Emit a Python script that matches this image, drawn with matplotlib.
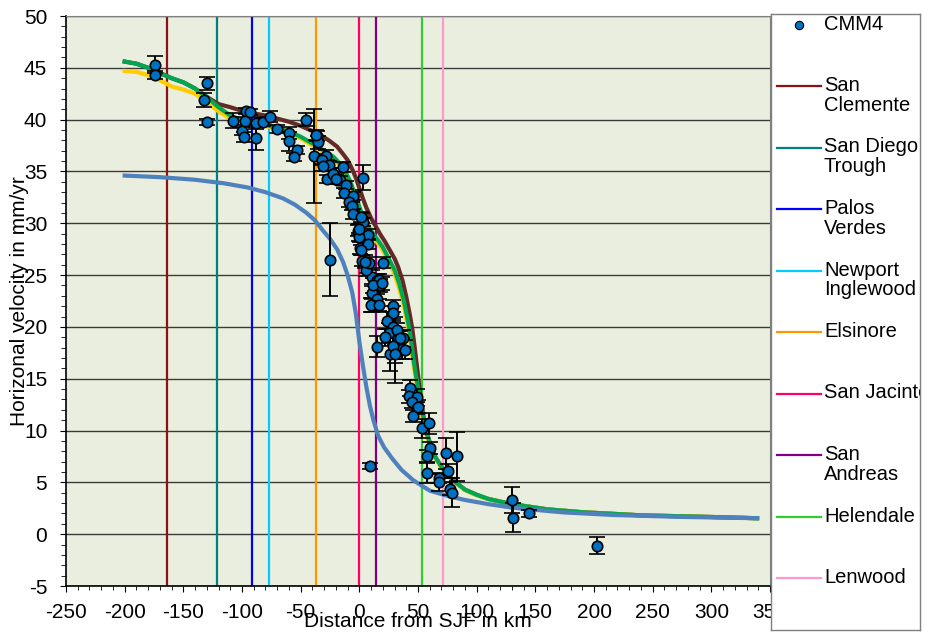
import numpy as np
import matplotlib

matplotlib.use("Agg")
import matplotlib.pyplot as plt
from matplotlib.ticker import MultipleLocator

plt.rcParams["font.family"] = ["Liberation Sans", "DejaVu Sans"]
plt.rcParams["axes.unicode_minus"] = False

# CMM4 velocities: distance from SJF (km), velocity (mm/yr), 1-sigma error
cmm4_x = [
    -174.1, -174.1, -129.6, -132.4, -129.6, -107.9, -99.7, -98.3, -96.6, -97.2,
    -93.5, -88.1, -88.1, -81.8, -76.1, -70.2, -60.2, -60.2, -53.4, -55.9,
    -45.7, -36.4, -35.5, -38.6, -32.1, -27.8, -25.0, 2.8, -28.7, -31.5,
    -25.6, -30.7, -27.8, -22.2, -19.3, -14.2, -16.5, -11.6, -13.1, -5.1,
    -8.5, -6.5, -5.1, 2.0, 3.4, -0.9, 7.7, -0.3, 0.6, 7.7,
    2.0, 6.3, 10.6, 14.8, 10.6, 14.8, 10.6, 19.9, 14.8, 17.6,
    29.0, 28.4, 23.3, 29.0, 25.6, 33.2, 37.5, 30.4, 36.1, 38.9,
    26.1, 14.8, 43.2, 42.6, 48.9, 44.6, 49.4, 45.4, 53.1, 59.1,
    60.2, 57.4, 57.4, 68.2, 68.2, 73.6, 75.9, 77.3, 78.7, 83.0,
    130.4, 131.3, 144.6, 202.3, 9.1, 1.1, 5.7, 8.5, 17.0, 11.9,
    19.0, 9.7, 17.0, 21.9, 31.8, 34.7, 29.0, 30.4, 50.3, -22.7,
    -19.9, 1.4, 0.0, 4.8, -36.9,
]
cmm4_y = [
    45.3, 44.3, 43.5, 41.9, 39.8, 39.9, 38.9, 38.3, 40.8, 39.9,
    40.7, 39.7, 38.2, 39.8, 40.3, 39.1, 38.7, 37.9, 37.1, 36.4,
    40.0, 38.4, 37.8, 36.5, 36.2, 35.6, 26.5, 34.4, 36.5, 36.1,
    35.6, 35.5, 34.3, 34.8, 34.2, 35.4, 34.2, 33.7, 32.9, 32.6,
    32.1, 31.7, 30.9, 30.5, 30.1, 29.3, 28.9, 28.7, 27.6, 28.0,
    26.4, 25.8, 24.8, 23.9, 23.3, 22.7, 22.1, 26.2, 24.5, 24.0,
    22.0, 21.3, 20.6, 20.0, 19.4, 18.9, 18.9, 17.8, 17.9, 17.8,
    17.4, 18.1, 14.1, 13.3, 13.2, 12.8, 12.2, 11.4, 10.2, 10.7,
    8.3, 7.5, 5.95, 5.4, 5.0, 7.8, 6.1, 4.4, 4.0, 7.5,
    3.3, 1.6, 2.0, -1.1, 6.6, 27.4, 25.5, 26.2, 24.5, 24.0,
    24.2, 22.1, 22.1, 19.0, 19.7, 18.9, 18.2, 17.4, 12.3, 34.8,
    34.3, 30.6, 29.4, 26.3, 38.5,
]
cmm4_err = [
    0.8, 0.4, 0.6, 0.7, 0.3, 0.7, 0.4, 0.5, 0.3, 0.4,
    0.3, 0.6, 1.1, 0.4, 0.5, 0.4, 0.6, 0.9, 0.4, 0.4,
    0.6, 0.5, 0.6, 4.5, 0.5, 0.5, 3.5, 1.2, 0.6, 0.5,
    0.4, 0.5, 0.4, 0.5, 0.4, 0.5, 0.4, 0.4, 0.5, 0.4,
    0.5, 0.4, 0.5, 0.5, 0.4, 0.5, 0.5, 0.4, 0.6, 0.5,
    0.5, 0.6, 0.7, 0.7, 0.6, 0.8, 0.7, 0.5, 0.6, 0.6,
    0.6, 0.7, 0.8, 0.8, 1.0, 0.7, 0.8, 3.2, 1.0, 0.9,
    1.7, 1.0, 0.8, 0.6, 0.8, 0.6, 0.6, 0.6, 0.9, 1.0,
    0.6, 0.6, 1.0, 0.5, 0.8, 1.5, 0.7, 0.6, 1.4, 2.4,
    1.3, 1.4, 0.3, 0.8, 0.3, 0.5, 0.6, 0.5, 0.6, 0.7,
    0.6, 0.7, 0.6, 0.8, 0.7, 0.7, 0.8, 0.9, 0.6, 0.5,
    0.5, 0.5, 0.5, 0.6, 0.5,
]

# model curves
green_x = [-200, -190, -180, -170, -160, -150, -140, -130, -120, -110, -100, -90, -80,
           -70, -60, -50, -40, -30, -22, -16, -12, -8, -5, -2, 2, 6, 10, 15, 20, 25,
           30, 34, 38, 41, 43, 46, 48, 50, 52, 54, 57, 61, 65, 70, 75, 82, 90, 100,
           110, 130, 160, 190, 240, 300, 339]
green_y = [45.6, 45.4, 45.0, 44.5, 44.0, 43.6, 43.0, 42.2, 41.2, 40.4, 39.95, 39.7, 39.5,
           39.2, 38.85, 38.35, 37.7, 37.0, 36.4, 35.7, 35.0, 34.1, 33.2, 32.2, 31.0,
           30.0, 29.3, 28.5, 27.7, 26.6, 25.5, 24.2, 22.5, 20.8, 19.6, 17.0, 15.5,
           14.2, 12.9, 11.6, 9.9, 8.5, 7.4, 6.5, 5.8, 5.0, 4.3, 3.8, 3.4, 2.9, 2.4,
           2.12, 1.82, 1.66, 1.54]

yellow_x = [-200, -190, -180, -170, -160, -150, -140, -130, -120, -110, -100, -90, -80,
            -70, -60, -50, -40, -30, -22, -16, -12, -8, -5, -2, 2, 6, 10, 15, 20, 25,
            30, 34, 38, 41, 43, 46, 48, 50, 52, 54, 57, 61, 65, 70, 75, 82, 90, 100,
            110, 130, 160, 190, 240, 300, 339]
yellow_y = [44.7, 44.6, 44.3, 43.8, 43.2, 42.9, 42.5, 41.7, 40.8, 40.1, 39.75, 39.6, 39.4,
            39.1, 38.7, 38.2, 37.5, 36.8, 36.2, 35.5, 34.8, 33.8, 32.9, 31.9, 30.7,
            29.7, 29.0, 28.2, 27.4, 26.3, 25.1, 23.7, 22.0, 20.3, 19.1, 16.5, 15.0,
            13.7, 12.4, 11.2, 9.6, 8.3, 7.3, 6.4, 5.7, 4.95, 4.25, 3.75, 3.4, 2.9, 2.4,
            2.12, 1.82, 1.66, 1.54]

brown_x = [-200, -190, -180, -170, -160, -150, -140, -130, -120, -110, -100, -90, -80,
           -70, -60, -50, -40, -33, -26, -19, -14, -10, -6, -3, 0, 3, 6, 10, 14, 18,
           22, 26, 30, 33, 37, 40, 43, 45, 47, 49, 51, 53, 55, 58, 61, 65, 70, 75, 82,
           90, 100, 110, 130, 160, 190, 240, 300, 339]
brown_y = [45.6, 45.4, 45.0, 44.5, 44.0, 43.6, 43.0, 42.2, 41.5, 41.2, 40.85, 40.6, 40.4,
           40.1, 39.8, 39.4, 38.9, 38.5, 38.0, 37.4, 36.7, 36.1, 35.2, 34.4, 33.4,
           32.4, 31.5, 30.5, 29.7, 28.9, 28.2, 27.4, 26.6, 25.8, 24.4, 22.9, 21.2,
           19.9, 18.2, 16.3, 14.4, 12.6, 11.2, 9.6, 8.5, 7.4, 6.5, 5.8, 5.0, 4.3, 3.8,
           3.4, 2.9, 2.4, 2.12, 1.82, 1.66, 1.54]

blue_x = [-200, -170, -140, -115, -95, -80, -65, -55, -45, -38, -31, -25, -19, -14, -10,
          -6, -3, 0, 3, 6, 9, 12, 16, 21, 28, 36, 46, 60, 75, 90, 110, 131, 174, 217,
          273, 339]
blue_y = [34.6, 34.45, 34.2, 33.85, 33.45, 33.0, 32.4, 31.8, 31.0, 30.3, 29.3, 28.5,
          27.5, 26.3, 25.0, 23.3, 21.3, 18.6, 16.3, 14.2, 12.4, 11.0, 9.5, 8.4, 7.3,
          6.2, 5.2, 4.2, 3.7, 3.3, 2.9, 2.55, 2.1, 1.85, 1.67, 1.54]

# fault locations (km from SJF)
fault_names = ["San\nClemente", "San Diego\nTrough", "Palos\nVerdes", "Newport\nInglewood",
               "Elsinore", "San Jacinto", "San\nAndreas", "Helendale", "Lenwood"]
fault_x = [-164, -121, -91.5, -77, -37, 0, 14.5, 53, 71.5]
fault_colors = ["#8B1212", "#008080", "#0000FF", "#00CCFF", "#FF9900",
                "#FF0066", "#800080", "#33CC33", "#FF99CC"]

fig = plt.figure(figsize=(9.25, 6.34), dpi=100)
ax = fig.add_axes([66 / 925, 48 / 634, 704 / 925, 570 / 634])
ax.set_facecolor("#EAEEDE")

ax.set_xlim(-250, 350)
ax.set_ylim(-5, 50)
ax.xaxis.set_major_locator(MultipleLocator(50))
ax.xaxis.set_minor_locator(MultipleLocator(10))
ax.yaxis.set_major_locator(MultipleLocator(5))
ax.yaxis.set_minor_locator(MultipleLocator(1))
ax.tick_params(which="both", direction="out", labelsize=15, color="black")
ax.tick_params(axis="y", which="major", length=4.5, pad=9)
ax.tick_params(axis="y", which="minor", length=3.5)
ax.tick_params(axis="x", which="major", length=4, pad=8)
ax.tick_params(axis="x", which="minor", length=3)
ax.grid(axis="y", which="major", color="#3a3a3a", lw=1.0, zorder=0)
ax.set_axisbelow(True)

for side in ["top", "right"]:
    ax.spines[side].set_color("#808080")
for side in ["left", "bottom"]:
    ax.spines[side].set_color("black")
    ax.spines[side].set_linewidth(1.2)

for fx, fc in zip(fault_x, fault_colors):
    ax.axvline(fx, color=fc, lw=1.6, zorder=1)

ax.plot(brown_x, brown_y, color="#632A26", lw=3.0, zorder=2, solid_joinstyle="round")
ax.plot(yellow_x, yellow_y, color="#FFCC00", lw=3.0, zorder=2.1, solid_joinstyle="round")
ax.plot(green_x, green_y, color="#00A650", lw=3.0, zorder=2.2, solid_joinstyle="round")
ax.plot(blue_x, blue_y, color="#4F81BD", lw=3.0, zorder=2.3, solid_joinstyle="round")

ax.errorbar(cmm4_x, cmm4_y, yerr=cmm4_err, fmt="o", ms=7.5, mfc="#0070C0", mec="black",
            mew=1.2, ecolor="black", elinewidth=1.4, capsize=5.5, capthick=1.4, zorder=4)

ax.set_xlabel("Distance from SJF in km", fontsize=15)
ax.set_ylabel("Horizonal velocity in mm/yr", fontsize=15)
ax.xaxis.set_label_coords(0.5, -0.062)
ax.yaxis.set_label_coords(-0.066, 0.5)
ax.xaxis.label.set_verticalalignment("center")
ax.yaxis.label.set_verticalalignment("center")

# legend panel, drawn like the spreadsheet legend
lg = fig.add_axes([771 / 925, 4 / 634, 149 / 925, 616 / 634], zorder=5)
lg.set_xlim(771, 920)
lg.set_ylim(630, 14)
lg.set_xticks([])
lg.set_yticks([])
for sp in lg.spines.values():
    sp.set_color("#7f7f7f")
    sp.set_linewidth(1.0)

lg.plot([799], [25], "o", ms=6, mfc="#0070C0", mec="black", mew=0.8)
lg.text(824, 24, "CMM4", fontsize=14.5, va="center", ha="left", clip_on=True)
for i, (name, fc) in enumerate(zip(fault_names, fault_colors)):
    y = 86 + i * 61.5
    lg.plot([777, 821], [y, y], color=fc, lw=1.6)
    lg.text(824, y - 10, name, fontsize=14.5, va="top", ha="left",
            linespacing=1.05, clip_on=True)

fig.savefig("out.png", dpi=100)
